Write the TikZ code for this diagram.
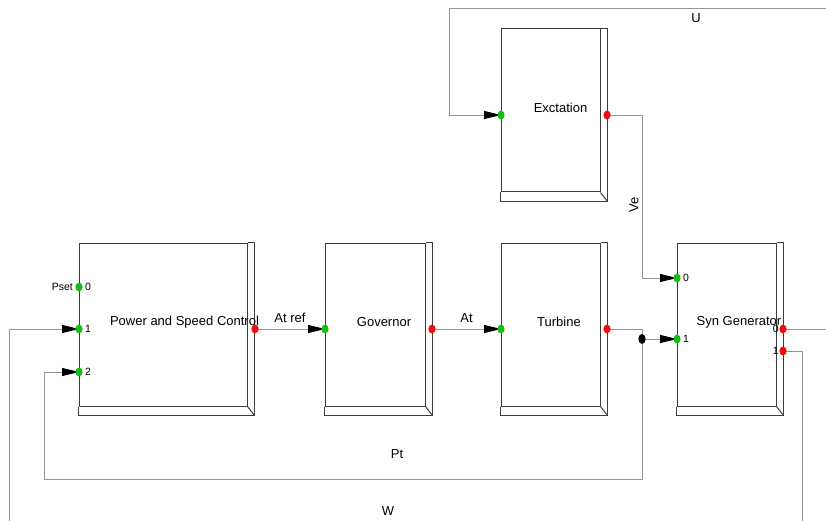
\documentclass[tikz,border=0pt]{standalone}
\usepackage{fontspec}
\setmainfont{Liberation Sans}
\usepackage{tikz}
\usetikzlibrary{
    positioning,
    arrows.meta,
    calc
}
\definecolor{lineGray}{RGB}{150, 150, 150}
\definecolor{boxGray}{RGB}{60, 60, 60}
\definecolor{portGreen}{RGB}{20, 190, 20}
\definecolor{portRed}{RGB}{240, 10, 10}

\begin{document}
\begin{tikzpicture}[x=1pt, y=-1pt,
        blk/.style={draw=boxGray, line width=1pt, rectangle, inner sep=0pt},
        wire/.style={draw=lineGray, line width=0.9pt},
        feed/.style={wire, -{Triangle[length=17pt, width=8pt, black]}},
        lbl/.style={font=\fontsize{13}{15}\selectfont, inner sep=0pt},
        num/.style={font=\fontsize{10.5}{12}\selectfont, inner sep=0pt}
    ]
    % Rahmen (Pixelmaße des Bildes)
    \useasboundingbox (0,0) rectangle (826,521);
    \clip (0,0) rectangle (826,521);

    % Bloecke (innere Flaeche)
    \node[blk, minimum width=168pt, minimum height=163pt] (psc) at (163, 324.5) {};
    \node[blk, minimum width=100pt, minimum height=163pt] (gov) at (375, 324.5) {};
    \node[blk, minimum width=99pt, minimum height=163pt] (turb) at (550.5, 324.5) {};
    \node[blk, minimum width=99pt, minimum height=163pt] (exc) at (550.5, 110.5) {};
    \node[blk, minimum width=99pt, minimum height=163pt] (syn) at (726.5, 324.5) {};

    % 3D-Kante rechts und unten
    \foreach \b in {psc, gov, turb, exc, syn} {
        \draw[boxGray, line width=1pt] (\b.north east) -- ++(7,0)
            -- ($(\b.south east)+(7,9)$) -- ($(\b.south west)+(0,9)$) -- (\b.south west);
        \draw[boxGray, line width=1pt] (\b.south east) -- ++(7,9);
    }

    % Beschriftung der Bloecke
    \node[lbl] at (184.5, 322) {Power and Speed Control};
    \node[lbl] at (384, 322) {Governor};
    \node[lbl] at (559, 322) {Turbine};
    \node[lbl] at (560.5, 108) {Exctation};
    \node[lbl] at (739, 322) {Syn Generator};

    % Anschluesse
    \coordinate (psc-in0) at (79, 287);
    \coordinate (psc-in1) at (79, 329);
    \coordinate (psc-in2) at (79, 372);
    \coordinate (psc-out) at (255, 329);
    \coordinate (gov-in) at (325, 329);
    \coordinate (gov-out) at (432, 329);
    \coordinate (turb-in) at (501, 329);
    \coordinate (turb-out) at (607, 329);
    \coordinate (exc-in) at (501, 115);
    \coordinate (exc-out) at (607, 115);
    \coordinate (syn-in0) at (677, 278);
    \coordinate (syn-in1) at (677, 339);
    \coordinate (syn-out0) at (783, 329);
    \coordinate (syn-out1) at (783, 351);
    \coordinate (junc) at (642, 339);

    % Hilfspunkte der Rueckfuehrungen
    \coordinate (uR) at (845, 8);
    \coordinate (uL) at (449, 8);
    \coordinate (veBend) at (642, 115);
    \coordinate (ptL) at (44, 479);
    \coordinate (wR) at (802, 540);
    \coordinate (wL) at (9, 540);

    % Verbindungen
    \draw[feed] (psc-out) -- (gov-in) node[lbl, midway, above=6pt] {At ref};
    \draw[feed] (gov-out) -- (turb-in) node[lbl, midway, above=6pt] {At};
    \draw[wire] (turb-out) -| (junc);
    \draw[feed] (junc) -- (syn-in1);
    \draw[feed] (junc) |- (ptL) |- (psc-in2);
    \draw[feed] (exc-out) -- (veBend) |- (syn-in0);
    \draw[feed] (syn-out0) -| (uR) -- (uL) |- (exc-in);
    \draw[feed] (syn-out1) -| (wR) -- (wL) |- (psc-in1);

    % Signalnamen
    \node[lbl] at (696, 18) {U};
    \node[lbl, rotate=90] at (634, 205) {Ve};
    \node[lbl] at (397, 454) {Pt};
    \node[lbl] at (388, 511) {W};

    % Punkte
    \foreach \p in {psc-in0, psc-in1, psc-in2, gov-in, turb-in, exc-in, syn-in0, syn-in1}
        \fill[portGreen] (\p) ellipse [x radius=3.6pt, y radius=4.4pt];
    \foreach \p in {psc-out, gov-out, turb-out, exc-out, syn-out0, syn-out1}
        \fill[portRed] (\p) ellipse [x radius=3.6pt, y radius=4.4pt];
    \fill[black] (junc) ellipse [x radius=3.6pt, y radius=5pt];

    % Nummern
    \node[num, anchor=east] at (73, 287) {Pset};
    \node[num, anchor=west] at (85, 287) {0};
    \node[num, anchor=west] at (85, 329) {1};
    \node[num, anchor=west] at (85, 372) {2};
    \node[num, anchor=west] at (683, 278) {0};
    \node[num, anchor=west] at (683, 339) {1};
    \node[num, anchor=east] at (779, 329) {0};
    \node[num, anchor=east] at (779, 351) {1};
\end{tikzpicture}
\end{document}
